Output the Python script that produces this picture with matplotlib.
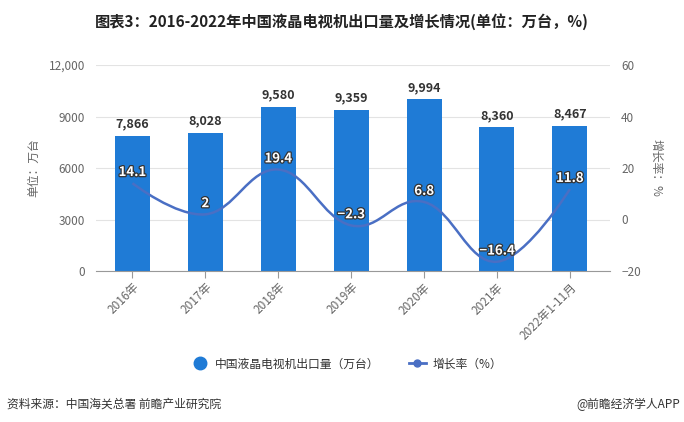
import matplotlib
matplotlib.use("Agg")
import matplotlib.pyplot as plt
import matplotlib.patheffects as pe
from matplotlib.path import Path
from matplotlib.patches import PathPatch
from matplotlib.lines import Line2D
import numpy as np

plt.rcParams['font.family'] = ['Noto Sans CJK SC', 'DejaVu Sans']

categories = ["2016年", "2017年", "2018年", "2019年", "2020年", "2021年", "2022年1-11月"]
exports = [7866, 8028, 9580, 9359, 9994, 8360, 8467]
growth = [14.1, 2, 19.4, -2.3, 6.8, -16.4, 11.8]
bar_labels = ["7,866", "8,028", "9,580", "9,359", "9,994", "8,360", "8,467"]
growth_labels = ["14.1", "2", "19.4", "\u22122.3", "6.8", "\u221216.4", "11.8"]
left_ticks = [0, 3000, 6000, 9000, 12000]
left_tick_labels = ["0", "3000", "6000", "9000", "12,000"]
right_ticks = [-20, 0, 20, 40, 60]

BAR = "#1f7bd6"
LINE = "#4a6fc4"
GRAY = "#666666"

W, H = 684, 422
fig = plt.figure(figsize=(W / 100, H / 100), dpi=100)
L, R, T, B = 96, 610, 65, 271
ax = fig.add_axes([L / W, 1 - B / H, (R - L) / W, (B - T) / H])
ax2 = ax.twinx()

x = np.arange(len(categories))
ax.bar(x, exports, width=0.48, color=BAR, zorder=2)
ax.set_ylim(0, 12000)
ax.set_xlim(-0.5, len(categories) - 0.5 + 0.05)
ax.set_yticks(left_ticks)
ax.set_yticklabels(left_tick_labels)
ax.grid(axis='y', color='#e3e3e3', linewidth=0.8, zorder=0)
ax.set_axisbelow(True)
for s in ['top', 'right', 'left']:
    ax.spines[s].set_visible(False)
ax.spines['bottom'].set_color('#999999')
ax.spines['bottom'].set_linewidth(0.8)
ax.tick_params(axis='y', length=0, labelsize=8.5, colors=GRAY, pad=8)
ax.tick_params(axis='x', length=5, color='#999999', labelsize=8.5, colors=GRAY, pad=2)
ax.set_xticks(x)
ax.set_xticklabels(categories, rotation=45, ha='right', va='top', rotation_mode='anchor')
ax.set_ylabel("单位：万台", fontsize=8.5, color=GRAY, labelpad=6)

for xi, v, lab in zip(x, exports, bar_labels):
    ax.annotate(lab, (xi, v), xytext=(0, 4), textcoords='offset points',
                ha='center', va='bottom', fontsize=9, fontweight='bold', color='#333333')

ax2.set_ylim(-20, 60)
ax2.set_yticks(right_ticks)
for s in ['top', 'right', 'left', 'bottom']:
    ax2.spines[s].set_visible(False)
ax2.tick_params(axis='y', length=0, labelsize=8.5, colors=GRAY, pad=8)
ax2.set_ylabel("增长率：%", fontsize=8.5, color=GRAY, rotation=270, labelpad=16)

# Highcharts-style spline through the growth points (display coords)
fig.canvas.draw()
pts = ax2.transData.transform(np.column_stack([x, growth]))
sm = 1.5
verts = [tuple(pts[0])]
codes = [Path.MOVETO]
ctrl = []
n = len(pts)
for i in range(n):
    if i == 0 or i == n - 1:
        ctrl.append((pts[i], pts[i]))
        continue
    px, py = pts[i - 1]
    cx, cy = pts[i]
    nx, ny = pts[i + 1]
    lx = (sm * cx + px) / (sm + 1); ly = (sm * cy + py) / (sm + 1)
    rx = (sm * cx + nx) / (sm + 1); ry = (sm * cy + ny) / (sm + 1)
    if rx != lx:
        slope = (ry - ly) / (rx - lx)
        corr = slope * cx - slope * lx + ly - cy
        ly -= corr; ry -= corr
    ctrl.append((np.array([lx, ly]), np.array([rx, ry])))
for i in range(1, n):
    verts += [tuple(ctrl[i - 1][1]), tuple(ctrl[i][0]), tuple(pts[i])]
    codes += [Path.CURVE4] * 3
path = Path(verts, codes)
patch = PathPatch(path, transform=None, facecolor='none', edgecolor=LINE, linewidth=1.8, zorder=3)
ax2.add_patch(patch)

for xi, g, lab in zip(x, growth, growth_labels):
    t = ax2.annotate(lab, (xi, g), xytext=(0, 3), textcoords='offset points',
                     ha='center', va='bottom', fontsize=9.5, fontweight='bold', color='white', zorder=5)
    t.set_path_effects([pe.Stroke(linewidth=1.8, foreground='#333333'), pe.Normal()])

fig.text(342 / W, 1 - 22 / H, "图表3：2016-2022年中国液晶电视机出口量及增长情况(单位：万台，%)",
         ha='center', va='center', fontsize=11, fontweight='bold', color='#222222')

handles = [
    Line2D([], [], marker='o', linestyle='none', markersize=9, color=BAR),
    Line2D([], [], marker='o', linestyle='-', markersize=5, color=LINE, linewidth=2),
]
fig.legend(handles, ["中国液晶电视机出口量（万台）", "增长率（%）"], loc='center',
           bbox_to_anchor=(347 / W, 1 - 364 / H), ncol=2, frameon=False, fontsize=8.5,
           handlelength=1.4, columnspacing=2.5, handletextpad=0.6, labelcolor='#333333')

fig.text(7 / W, 1 - 404 / H, "资料来源：中国海关总署 前瞻产业研究院", ha='left', va='center',
         fontsize=8.5, color='#333333')
fig.text(680 / W, 1 - 404 / H, "@前瞻经济学人APP", ha='right', va='center',
         fontsize=8.5, color='#333333')

fig.savefig("out.png", dpi=100)
